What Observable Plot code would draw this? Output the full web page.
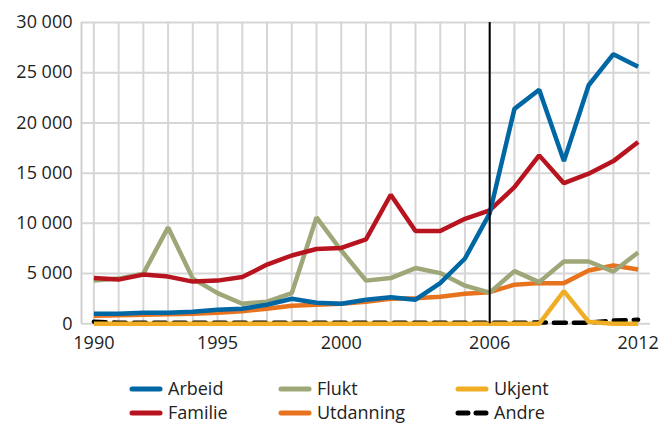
<!DOCTYPE html>
<html>
<head>
<meta charset="utf-8">
<script src="https://cdn.jsdelivr.net/npm/d3@7"></script>
<script src="https://cdn.jsdelivr.net/npm/@observablehq/plot@0.6"></script>
<style>
  html, body { margin: 0; padding: 0; background: #fff; }
  #wrap { position: relative; width: 660px; height: 424px; font-family: "Open Sans", sans-serif; color: #222; }
  .leg { position: absolute; font-size: 18px; line-height: 20px; white-space: nowrap; }
</style>
</head>
<body>
<div id="wrap"></div>
<script>
const years = [1990,1991,1992,1993,1994,1995,1996,1997,1998,1999,2000,2001,2002,2003,2004,2005,2006,2007,2008,2009,2010,2011,2012];
const arbeid    = [1000,1000,1100,1100,1200,1400,1500,1900,2500,2100,2000,2400,2650,2400,4050,6500,11000,21400,23300,16200,23750,26850,25600];
const familie   = [4550,4400,4900,4700,4200,4300,4650,5900,6800,7450,7550,8400,12850,9230,9230,10450,11300,13600,16770,14000,14950,16200,18100];
const flukt     = [4300,4500,5000,9600,4500,3050,2000,2200,3050,10600,7300,4300,4550,5550,5050,3800,3100,5250,4150,6200,6200,5200,7100];
const utdanning = [800,850,900,950,1000,1100,1250,1500,1800,1900,2000,2200,2500,2550,2700,3000,3150,3900,4050,4050,5300,5800,5400];
const ukjent    = [0,0,0,0,0,0,0,0,0,0,0,0,0,0,0,0,0,0,0,3250,200,0,0];
const andre     = [200,100,100,100,100,100,100,100,100,100,100,100,100,100,100,100,100,100,130,100,100,330,400];

const seriesNames = ["Arbeid","Familie","Flukt","Utdanning","Ukjent","Andre"];
const seriesColors = ["#0067a5","#b8141f","#9ea778","#e8731f","#f0ae27","#000000"];
const seriesValues = [arbeid, familie, flukt, utdanning, ukjent, andre];
const yTicks = [0,5000,10000,15000,20000,25000,30000];
const xTicks = [1990,1995,2000,2006,2012];
const markerYear = [2006];

const rows = [];
seriesNames.forEach((name, i) => years.forEach((yr, j) => rows.push({series: name, year: yr, value: seriesValues[i][j]})));
const drawOrder = ["Andre","Ukjent","Utdanning","Flukt","Familie","Arbeid"];
const fmt = v => d3.format(",")(v).replace(/,/g, "\u00a0");

const lineMarks = drawOrder.map(name => {
  const i = seriesNames.indexOf(name);
  return Plot.line(rows.filter(d => d.series === name), {
    x: "year", y: "value",
    stroke: seriesColors[i], strokeWidth: 4.5,
    strokeDasharray: name === "Andre" ? "12,8" : null,
    strokeLinejoin: "miter", strokeLinecap: name === "Andre" ? "round" : "butt"
  });
});

const chart = Plot.plot({
  width: 660, height: 360,
  marginLeft: 81, marginRight: 10, marginTop: 22, marginBottom: 36.7,
  style: {fontFamily: "Open Sans, sans-serif", fontSize: "18px", color: "#222", background: "#fff"},
  x: {domain: [1989.5, 2012.5], ticks: xTicks, tickFormat: d => String(d), tickSize: 0, tickPadding: 12, label: null},
  y: {domain: [0, 30000], ticks: yTicks, tickFormat: fmt, tickSize: 0, tickPadding: 9, label: null},
  marks: [
    Plot.ruleX(years, {stroke: "#d6d6d6", strokeWidth: 2}),
    Plot.ruleY(yTicks, {stroke: "#d6d6d6", strokeWidth: 2}),
    Plot.ruleX([1989.5], {stroke: "#d0d0d0", strokeWidth: 2, y1: 0, y2: 30000}),
    ...lineMarks,
    Plot.ruleX(markerYear, {stroke: "#000", strokeWidth: 2})
  ]
});
const wrap = document.getElementById("wrap");
chart.style.position = "absolute";
chart.style.left = "0px";
chart.style.top = "0px";
wrap.appendChild(chart);

// legend
const legendPos = {
  "Arbeid":    [130, 389], "Familie":   [130, 413],
  "Flukt":     [279, 389], "Utdanning": [279, 413],
  "Ukjent":    [456, 389], "Andre":     [456, 413]
};
seriesNames.forEach((name, i) => {
  const [x, y] = legendPos[name];
  const sw = document.createElementNS("http://www.w3.org/2000/svg", "svg");
  sw.setAttribute("width", 34); sw.setAttribute("height", 10);
  sw.style.position = "absolute"; sw.style.left = (x - 1) + "px"; sw.style.top = (y - 5) + "px";
  const ln = document.createElementNS("http://www.w3.org/2000/svg", "line");
  ln.setAttribute("x1", 3); ln.setAttribute("x2", 31); ln.setAttribute("y1", 5); ln.setAttribute("y2", 5);
  ln.setAttribute("stroke", seriesColors[i]); ln.setAttribute("stroke-width", 5);
  ln.setAttribute("stroke-linecap", "round");
  if (name === "Andre") ln.setAttribute("stroke-dasharray", "10,8");
  sw.appendChild(ln);
  wrap.appendChild(sw);
  const t = document.createElement("div");
  t.className = "leg"; t.textContent = name;
  t.style.left = (x + 38) + "px"; t.style.top = (y - 11) + "px";
  wrap.appendChild(t);
});
</script>
</body>
</html>
